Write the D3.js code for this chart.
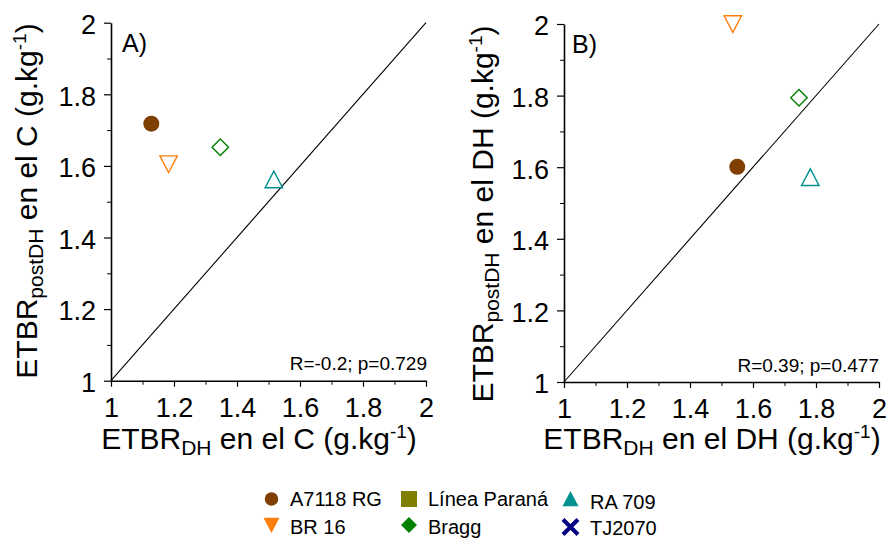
<!DOCTYPE html>
<html>
<head>
<meta charset="utf-8">
<script src="https://cdn.jsdelivr.net/npm/d3@7"></script>
<style>
  html, body { margin: 0; padding: 0; background: #fff; }
  svg { display: block; font-family: "Liberation Sans", Arial, sans-serif; }
</style>
</head>
<body>
<svg id="chart" width="887" height="540"></svg>
<script>
// ---- data ----
const cultivars = ["A7118 RG", "BR 16", "Línea Paraná", "Bragg", "RA 709", "TJ2070"];
const cultivarColors = ["#7f3f00", "#ff7f0e", "#808000", "#008000", "#009090", "#000080"];
const cultivarShapes = ["circle", "triangleDown", "square", "diamond", "triangleUp", "cross"];

// Panel A: ETBR_DH in C (x) vs ETBR_postDH in C (y)
const panelACultivars = ["A7118 RG", "BR 16", "Bragg", "RA 709"];
const panelAX = [1.128, 1.183, 1.347, 1.517];
const panelAY = [1.718, 1.606, 1.652, 1.561];

// Panel B: ETBR_DH in DH (x) vs ETBR_postDH in DH (y)
const panelBCultivars = ["A7118 RG", "BR 16", "Bragg", "RA 709"];
const panelBX = [1.550, 1.536, 1.746, 1.782];
const panelBY = [1.601, 2.001, 1.794, 1.571];

const axisDomain = [1, 2];
const majorTicks = [1, 1.2, 1.4, 1.6, 1.8, 2];
const minorTicks = [1.1, 1.3, 1.5, 1.7, 1.9];
const tickLabels = ["1", "1.2", "1.4", "1.6", "1.8", "2"];

const panelLetters = ["A)", "B)"];
const statsText = ["R=-0.2; p=0.729", "R=0.39; p=0.477"];
const yLabelTail = [" en el C (g.kg", " en el DH (g.kg"];
const xLabelTail = [" en el C (g.kg", " en el DH (g.kg"];

// ---- drawing ----
const svg = d3.select("#chart");

function markerPath(shape, s) {
  const h = s / 2;
  switch (shape) {
    case "circle": return d3.symbol(d3.symbolCircle, Math.PI * h * h)();
    case "square": return `M${-h},${-h}H${h}V${h}H${-h}Z`;
    case "diamond": return `M0,${-h}L${h},0L0,${h}L${-h},0Z`;
    case "triangleUp": return `M0,${-h}L${h},${h * 0.9}L${-h},${h * 0.9}Z`;
    case "triangleDown": return `M0,${h}L${h},${-h * 0.9}L${-h},${-h * 0.9}Z`;
    case "cross": return `M${-h},${-h}L${h},${h}M${h},${-h}L${-h},${h}`;
  }
}

const panels = [
  { left: 111, right: 426, top: 22.7, bottom: 380.7, xs: panelAX, ys: panelAY, names: panelACultivars,
    yLabelX: 37, yLabelY: 201, xLabelX: 259, xLabelY: 449, letterX: 122, letterY: 52, statsX: 427, statsY: 370 },
  { left: 564, right: 879, top: 24, bottom: 382, xs: panelBX, ys: panelBY, names: panelBCultivars,
    yLabelX: 493, yLabelY: 214, xLabelX: 712, xLabelY: 449, letterX: 572, letterY: 53, statsX: 879, statsY: 372 }
];

panels.forEach((p, pi) => {
  const x = d3.scaleLinear().domain(axisDomain).range([p.left, p.right]);
  const y = d3.scaleLinear().domain(axisDomain).range([p.bottom, p.top]);
  const g = svg.append("g");

  // minor ticks
  const xMinor = d3.axisBottom(x).tickValues(minorTicks).tickSize(4).tickFormat("");
  const yMinor = d3.axisLeft(y).tickValues(minorTicks).tickSize(4).tickFormat("");
  g.append("g").attr("transform", `translate(0,${p.bottom})`).call(xMinor)
    .call(s => s.select(".domain").remove());
  g.append("g").attr("transform", `translate(${p.left},0)`).call(yMinor)
    .call(s => s.select(".domain").remove());

  // major axes
  const xAxis = d3.axisBottom(x).tickValues(majorTicks).tickSizeInner(6).tickSizeOuter(0)
    .tickPadding(5).tickFormat((d, i) => tickLabels[i]);
  const yAxis = d3.axisLeft(y).tickValues(majorTicks).tickSizeInner(7).tickSizeOuter(0)
    .tickPadding(8).tickFormat((d, i) => tickLabels[i]);
  const gx = g.append("g").attr("transform", `translate(0,${p.bottom})`).call(xAxis);
  const gy = g.append("g").attr("transform", `translate(${p.left},0)`).call(yAxis);
  [gx, gy].forEach(a => {
    a.selectAll("text").attr("font-size", 27).attr("fill", "#000")
      .attr("font-family", "'Liberation Sans', Arial, sans-serif");
    a.select(".domain").attr("stroke-width", 1.6);
    a.selectAll(".tick line").attr("stroke-width", 1.2);
  });
  gy.selectAll("text").attr("dy", "0.4em");
  gx.selectAll("text").attr("dy", "0.92em");
  g.selectAll(".tick line").attr("stroke", "#000");

  // 1:1 line
  g.append("line")
    .attr("x1", x(axisDomain[0])).attr("y1", y(axisDomain[0]))
    .attr("x2", x(axisDomain[1])).attr("y2", y(axisDomain[1]))
    .attr("stroke", "#000").attr("stroke-width", 1.1);

  // points
  p.names.forEach((name, i) => {
    const ci = cultivars.indexOf(name);
    const shape = cultivarShapes[ci];
    const filled = shape === "circle";
    g.append("path")
      .attr("d", markerPath(shape, shape === "circle" ? 16 : shape === "diamond" ? 16.5 : 17.5))
      .attr("transform", `translate(${x(p.xs[i])},${y(p.ys[i])})`)
      .attr("fill", filled ? cultivarColors[ci] : "none")
      .attr("stroke", cultivarColors[ci])
      .attr("stroke-width", filled ? 0 : 1.4);
  });

  // panel letter
  g.append("text").attr("x", p.letterX).attr("y", p.letterY)
    .attr("font-size", 25).text(panelLetters[pi]);

  // stats
  g.append("text").attr("x", p.statsX).attr("y", p.statsY)
    .attr("text-anchor", "end").attr("font-size", 19).text(statsText[pi]);

  // y label
  const yl = g.append("text")
    .attr("transform", `translate(${p.yLabelX},${p.yLabelY}) rotate(-90)`)
    .attr("text-anchor", "middle").attr("font-size", 30);
  yl.append("tspan").text("ETBR");
  yl.append("tspan").attr("font-size", 21).attr("dy", 6).text("postDH");
  yl.append("tspan").attr("dy", -6).text(yLabelTail[pi]);
  yl.append("tspan").attr("font-size", 19).attr("dy", -11).text("-1");
  yl.append("tspan").attr("dy", 11).text(")");

  // x label
  const xl = g.append("text")
    .attr("x", p.xLabelX).attr("y", p.xLabelY)
    .attr("text-anchor", "middle").attr("font-size", 30);
  xl.append("tspan").text("ETBR");
  xl.append("tspan").attr("font-size", 21).attr("dy", 6).text("DH");
  xl.append("tspan").attr("dy", -6).text(xLabelTail[pi]);
  xl.append("tspan").attr("font-size", 19).attr("dy", -11).text("-1");
  xl.append("tspan").attr("dy", 11).text(")");
});

// ---- legend ----
const legendCols = [271.5, 409, 570.5];
const legendTextX = [290, 428, 590];
const legendRowsY = [499, 525];
const legendTextDy = [[7, 9], [7, 9], [10, 10]];
const legend = svg.append("g");
cultivars.forEach((name, i) => {
  const col = Math.floor(i / 2), row = i % 2;
  const cx = legendCols[col], cy = legendRowsY[row] + (col === 2 && row === 1 ? 2 : 0);
  const shape = cultivarShapes[i];
  const size = shape === "circle" ? 13.5 : shape === "cross" ? 15 : 16;
  legend.append("path")
    .attr("d", markerPath(shape, size))
    .attr("transform", `translate(${cx},${cy})`)
    .attr("fill", shape === "cross" ? "none" : cultivarColors[i])
    .attr("stroke", cultivarColors[i])
    .attr("stroke-width", shape === "cross" ? 4 : 0);
  legend.append("text")
    .attr("x", legendTextX[col]).attr("y", legendRowsY[row] + legendTextDy[col][row])
    .attr("font-size", 20).text(name);
});
</script>
</body>
</html>
